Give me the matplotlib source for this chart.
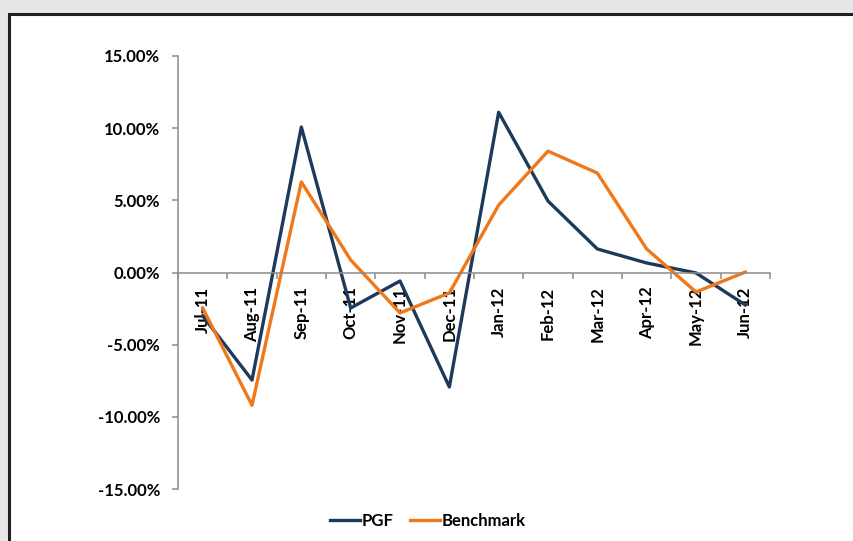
import matplotlib
matplotlib.use('Agg')
import matplotlib.pyplot as plt
from matplotlib.patches import Rectangle
from matplotlib.ticker import FuncFormatter, FixedLocator

months = ['Jul-11', 'Aug-11', 'Sep-11', 'Oct-11', 'Nov-11', 'Dec-11',
          'Jan-12', 'Feb-12', 'Mar-12', 'Apr-12', 'May-12', 'Jun-12']
pgf = [-3.0, -7.45, 10.08, -2.46, -0.59, -7.93, 11.1, 4.95, 1.63, 0.66, -0.03, -2.25]
benchmark = [-2.46, -9.2, 6.27, 0.87, -2.8, -1.42, 4.67, 8.41, 6.89, 1.63, -1.35, 0.03]

plt.rcParams['font.family'] = ['Lato', 'DejaVu Sans']
plt.rcParams['font.weight'] = 'bold'

fig = plt.figure(figsize=(8.54, 5.41), dpi=100)
fig.patch.set_facecolor('#e6e7e8')
# white panel with dark frame
panel = Rectangle((9.5 / 854, -0.1), 1.2, 1 - 14 / 541 + 0.1,
                  transform=fig.transFigure, facecolor='white',
                  edgecolor='#231f20', lw=2.2, zorder=-10)
fig.add_artist(panel)

ax = fig.add_axes([178 / 854, 52 / 541, 592 / 854, 433 / 541])
ax.set_facecolor('none')

x = list(range(len(months)))
ax.plot(x, pgf, color='#1d3a5c', lw=2.4, label='PGF')
ax.plot(x, benchmark, color='#f07818', lw=2.4, label='Benchmark')

ax.set_xlim(-0.5, len(months) - 0.5)
ax.set_ylim(-15, 15)
ax.set_yticks([-15, -10, -5, 0, 5, 10, 15])
ax.yaxis.set_major_formatter(FuncFormatter(lambda v, p: '%.2f%%' % v))

for s in ['top', 'right']:
    ax.spines[s].set_visible(False)
ax.spines['bottom'].set_position(('data', 0))
for s in ['left', 'bottom']:
    ax.spines[s].set_color('#8c8c8c')
    ax.spines[s].set_linewidth(1.1)

ax.set_xticks(x)
ax.set_xticklabels(months, rotation=90, va='top', ha='center')
ax.xaxis.set_minor_locator(FixedLocator([i - 0.5 for i in range(len(months) + 1)]))
ax.tick_params(axis='x', which='major', length=0, pad=10, labelsize=12)
ax.tick_params(axis='x', which='minor', length=4, color='#8c8c8c', width=1.1)
ax.tick_params(axis='y', length=4, color='#8c8c8c', width=1.1, pad=9, labelsize=12)

ax.legend(loc='center', bbox_to_anchor=(428 / 854, 1 - 521 / 541), bbox_transform=fig.transFigure,
          ncol=2, frameon=False, fontsize=12, handlelength=1.8, handletextpad=0.1,
          columnspacing=1.0)

fig.savefig('out.png', dpi=100, facecolor=fig.get_facecolor())
